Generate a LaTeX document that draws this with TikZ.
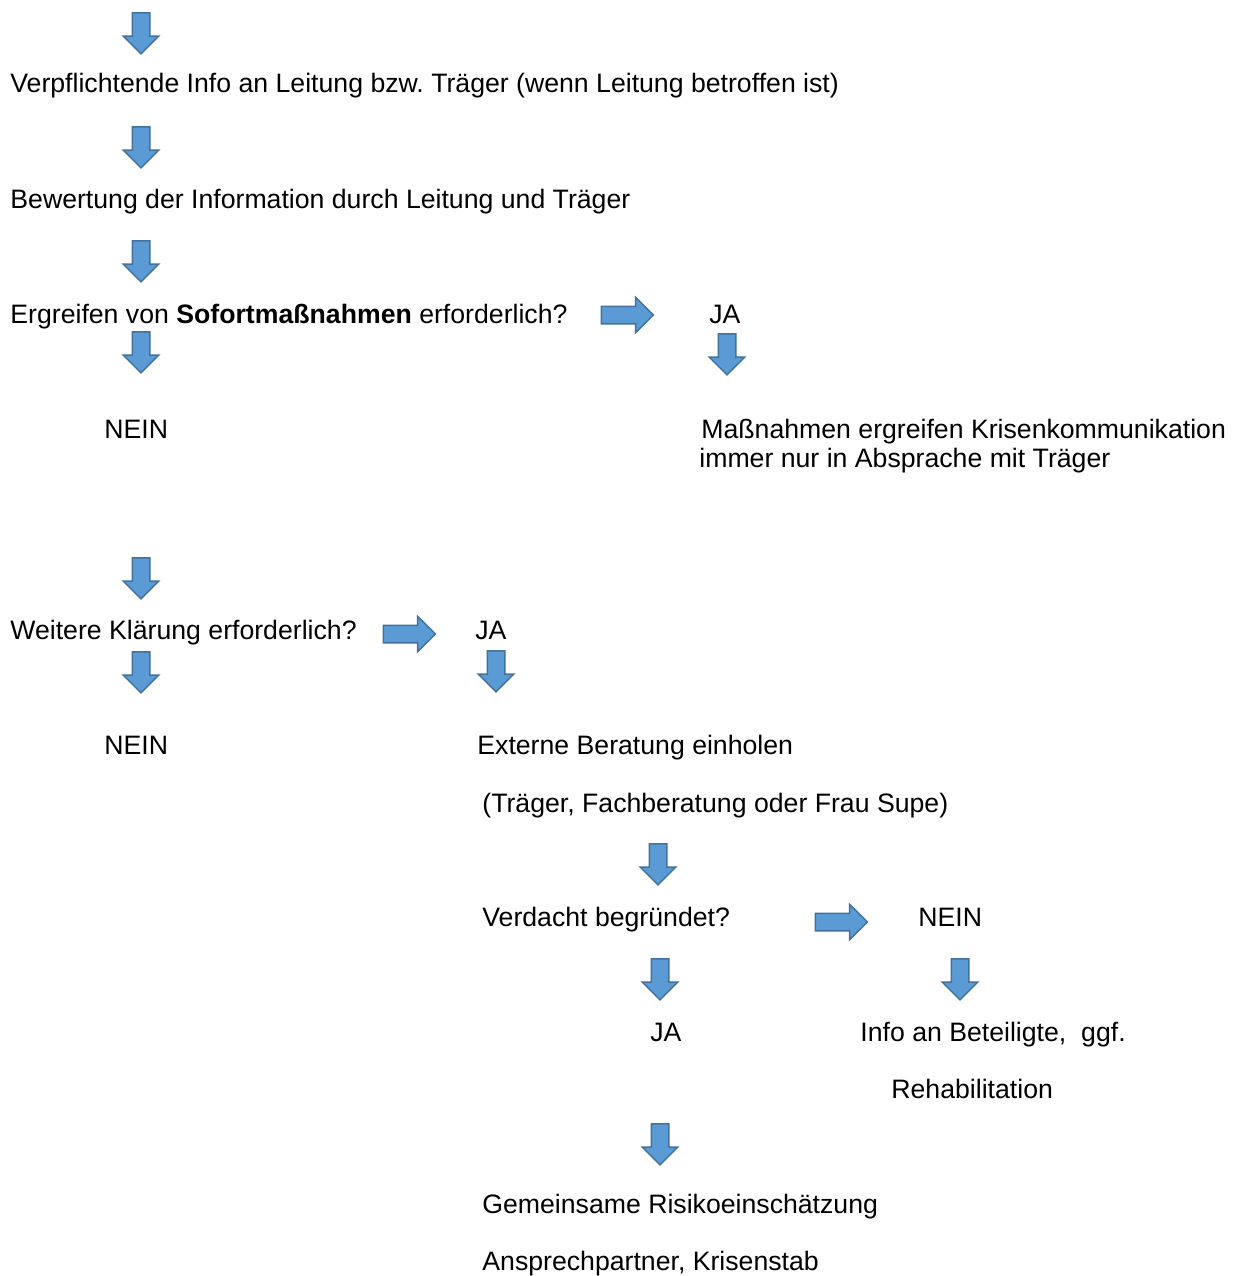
\documentclass[tikz,border=0pt]{standalone}
\usepackage{fontspec}
\setmainfont{Liberation Sans}
\usetikzlibrary{shapes.arrows}
\definecolor{arrowfill}{HTML}{5B9BD5}
\definecolor{arrowline}{HTML}{41719C}
\frenchspacing
\tikzset{
	blockdown/.style={single arrow, shape border rotate=270, draw=arrowline, fill=arrowfill,
		line width=0.75pt, inner sep=4pt, minimum height=20.5pt,
		single arrow head extend=4.5pt},
	blockright/.style={blockdown, shape border rotate=0, minimum height=26pt},
	txt/.style={anchor=base west, inner sep=0pt, font=\fontsize{13.33}{16}\selectfont}
}
\begin{document}
\begin{tikzpicture}[x=0.5pt, y=-0.5pt]
	\useasboundingbox (0,0) rectangle (1236,1276);
	
	% texts, left column
	\node[txt] (info) at (10,92) {Verpflichtende Info an Leitung bzw. Tr\"ager (wenn Leitung betroffen ist)};
	\node[txt] (bewertung) at (10,208) {Bewertung der Information durch Leitung und Tr\"ager};
	\node[txt] (sofort) at (10,323) {Ergreifen von \textbf{Sofortma\ss nahmen} erforderlich?};
	\node[txt] (neinA) at (104,438) {NEIN};
	\node[txt] (klaerung) at (10,639) {Weitere Kl\"arung erforderlich?};
	\node[txt] (neinB) at (104,754) {NEIN};
	
	% texts, right side
	\node[txt] (jaA) at (709,323) {JA};
	\node[txt] (massnahmen) at (701,438) {Ma\ss nahmen ergreifen Krisenkommunikation};
	\node[txt] (absprache) at (699,467) {immer nur in Absprache mit Tr\"ager};
	\node[txt] (jaB) at (475,639) {JA};
	\node[txt] (extern) at (477,754) {Externe Beratung einholen};
	\node[txt] (fach) at (482,812) {(Tr\"ager, Fachberatung oder Frau Supe)};
	\node[txt] (verdacht) at (482,926) {Verdacht begr\"undet?};
	\node[txt] (neinC) at (918,926) {NEIN};
	\node[txt] (jaC) at (650,1041) {JA};
	\node[txt] (beteiligte) at (860,1041) {Info an Beteiligte,\ \ ggf.};
	\node[txt] (reha) at (891,1098) {Rehabilitation};
	\node[txt] (risiko) at (482,1213) {Gemeinsame Risikoeinsch\"atzung};
	\node[txt] (krisenstab) at (482,1270) {Ansprechpartner, Krisenstab};
	
	% arrows down
	\node[blockdown] (downA) at (141,29) {};
	\node[blockdown] (downB) at (141,143) {};
	\node[blockdown] (downC) at (141,257) {};
	\node[blockdown] (downD) at (141,348) {};
	\node[blockdown] (downE) at (727,350) {};
	\node[blockdown] (downF) at (141,574) {};
	\node[blockdown] (downG) at (141,668) {};
	\node[blockdown] (downH) at (496,667) {};
	\node[blockdown] (downI) at (658,860) {};
	\node[blockdown] (downJ) at (660,975) {};
	\node[blockdown] (downK) at (960,975) {};
	\node[blockdown] (downL) at (660,1140) {};
	
	% arrows right
	\node[blockright] (rightA) at (623,315) {};
	\node[blockright] (rightB) at (405,634) {};
	\node[blockright] (rightC) at (837,922) {};
\end{tikzpicture}
\end{document}
